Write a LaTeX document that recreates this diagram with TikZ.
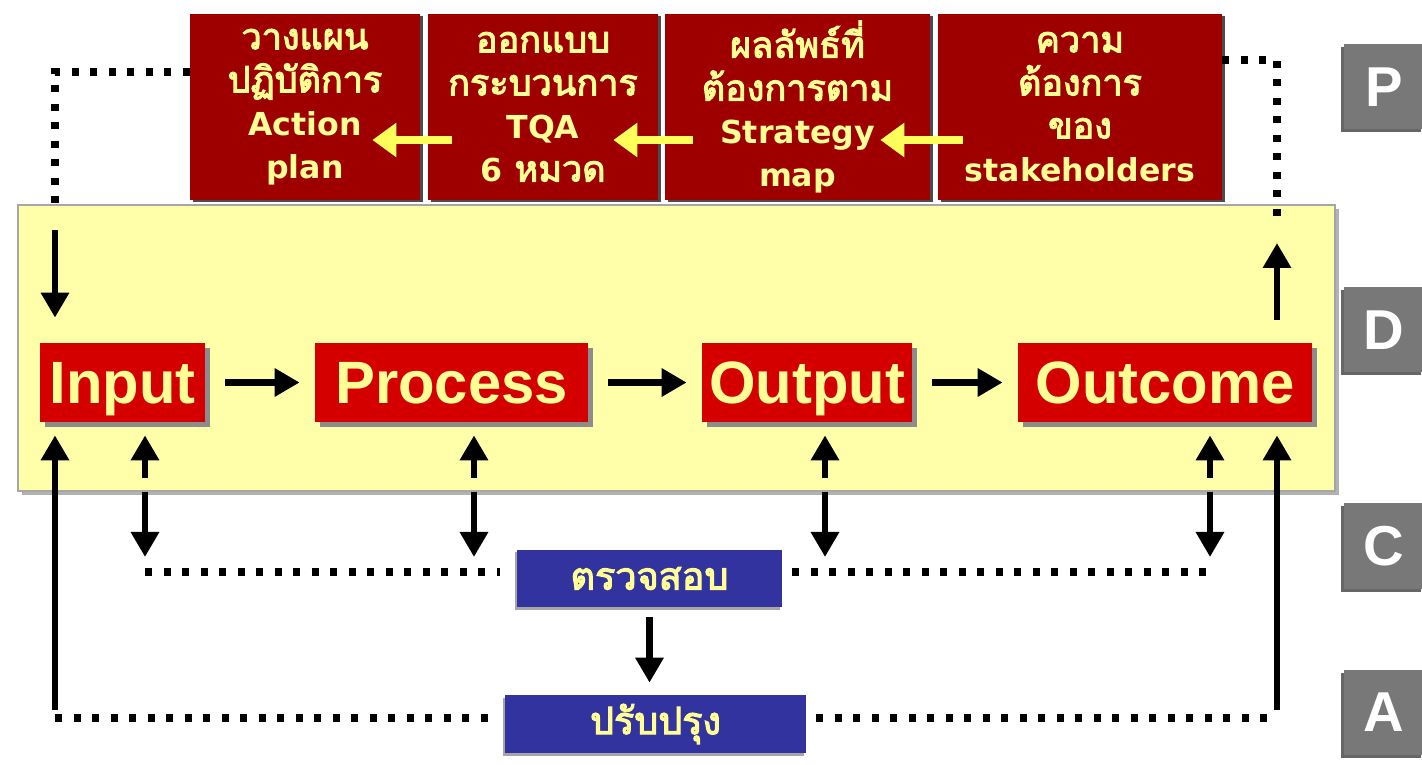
\documentclass[tikz,border=0pt]{standalone}
\usepackage{fontspec}
\setmainfont{Liberation Sans}
\newfontfamily\thaifont[Script=Thai, AutoFakeBold=3]{Loma}
\newfontfamily\boxlatin{DejaVu Sans}
\newcommand\lat[1]{{\boxlatin\bfseries\fontsize{18}{24.5}\selectfont #1}}
\usetikzlibrary{arrows.meta, shadows, positioning, calc}

\definecolor{planred}{RGB}{158,0,0}
\definecolor{stepred}{RGB}{212,0,0}
\definecolor{bandyellow}{RGB}{255,255,170}
\definecolor{textyellow}{RGB}{255,255,150}
\definecolor{arrowyellow}{RGB}{255,255,90}
\definecolor{checkblue}{RGB}{51,51,160}
\definecolor{tilegray}{RGB}{120,120,120}

\begin{document}
\begin{tikzpicture}[x=0.2mm, y=-0.2mm,
    planbox/.style={fill=planred, text=textyellow, align=center,
      font=\thaifont\bfseries\fontsize{20.5}{24.5}\selectfont,
      minimum height=37.2mm, inner sep=0pt,
      drop shadow={shadow xshift=0.5mm, shadow yshift=-0.5mm, fill=black!70, opacity=1}},
    stepbox/.style={fill=stepred, text=textyellow,
      font=\bfseries\fontsize{34}{36}\selectfont,
      text height=24pt, text depth=0pt,
      minimum height=15.8mm, inner sep=0pt,
      drop shadow={shadow xshift=1mm, shadow yshift=-1mm, fill=black!45, opacity=1}},
    checkbox/.style={fill=checkblue, text=textyellow,
      font=\thaifont\bfseries\fontsize{21.5}{24}\selectfont, inner sep=0pt,
      drop shadow={shadow xshift=-0.5mm, shadow yshift=-0.5mm, fill=black!35, opacity=1}},
    pdcatile/.style={fill=tilegray, text=white,
      font=\bfseries\fontsize{32}{32}\selectfont,
      minimum width=16mm, minimum height=17mm, inner sep=0pt,
      drop shadow={shadow xshift=-0.6mm, shadow yshift=-0.6mm, fill=black!60, opacity=1}},
    dotline/.style={line width=1.5mm, dash pattern=on 1.4mm off 2.3mm},
    flow/.style={line width=1.3mm, -{Triangle[length=5mm, width=5.4mm]}},
    feed/.style={line width=1.7mm, arrowyellow, -{Triangle[length=4.8mm, width=6.6mm]}},
  ]
  \useasboundingbox (0,0) rectangle (1422,765);

  % yellow "Do" band
  \node[fill=bandyellow, draw=black!35, line width=0.3mm,
    minimum width=263.4mm, minimum height=57.2mm, inner sep=0pt,
    drop shadow={shadow xshift=0.8mm, shadow yshift=-0.8mm, fill=black!30, opacity=1}]
    (band) at (676.5,348) {};

  % plan boxes
  \node[planbox, minimum width=46mm] (plan) at (305,107) {วางแผน\\ปฏิบัติการ\\\lat{Action}\\\lat{plan}};
  \node[planbox, minimum width=46mm] (design) at (543,107) {ออกแบบ\\กระบวนการ\\\lat{TQA}\\\lat{6} หมวด};
  \node[planbox, minimum width=53mm] (goal) at (797.5,107) {ผลลัพธ์ที่\\ต้องการตาม\\\lat{Strategy}\\\lat{map}};
  \node[planbox, minimum width=56.8mm] (need) at (1080,107) {ความ\\ต้องการ\\ของ\\\lat{stakeholders}};

  \draw[feed] ($(need.west)+(25,33)$) -- ($(goal.east)+(-50,33)$);
  \draw[feed] ($(goal.west)+(28,33)$) -- ($(design.east)+(-45,33)$);
  \draw[feed] ($(design.west)+(24,33)$) -- ($(plan.east)+(-48,33)$);

  % main chain
  \node[stepbox, minimum width=33mm] (input) at (122.5,382.5) {Input};
  \node[stepbox, minimum width=54.6mm] (process) at (451.5,382.5) {Process};
  \node[stepbox, minimum width=42mm] (output) at (807,382.5) {Output};
  \node[stepbox, minimum width=58.8mm] (outcome) at (1165,382.5) {Outcome};

  \draw[flow, shorten <=4mm, shorten >=3mm] (input) -- (process);
  \draw[flow, shorten <=4mm, shorten >=3mm] (process) -- (output);
  \draw[flow, shorten <=4mm, shorten >=3mm] (output) -- (outcome);

  % check and act
  \node[checkbox, minimum width=53mm, minimum height=11.4mm] (check) at (649.5,578.5) {ตรวจสอบ};
  \node[checkbox, minimum width=60.2mm, minimum height=11.6mm] (improve) at (655.5,724) {ปรับปรุง};
  \draw[flow, shorten <=2mm, shorten >=2.4mm] (check.south) -- (check.south |- improve.north);

  % PDCA tiles
  \node[pdcatile] (tileP) at (1384,87) {P};
  \node[pdcatile] (tileD) at (1384,330) {D};
  \node[pdcatile] (tileC) at (1384,546) {C};
  \node[pdcatile] (tileA) at (1384,712) {A};

  % plan feedback loops
  \coordinate (tl) at (55,72);
  \coordinate (tr) at (1277,60);
  \draw[dotline] (plan.west |- tl) -- (tl) -- ++(0,141);
  \draw[flow, shorten >=5mm] ($(tl)+(0,158)$) -- (tl |- input.north);
  \draw[dotline] (need.east |- tr) -- (tr) -- ++(0,167);
  \draw[flow, shorten <=4.6mm] (tr |- outcome.north) -- ($(tr)+(0,183)$);

  % check line
  \coordinate (cl) at (145,572);
  \coordinate (cr) at (1217,572);
  \draw[dotline, shorten >=3.4mm] (cl) -- (cl -| check.west);
  \draw[dotline, shorten <=2mm] (check.east |- cr) -- (cr);
  \foreach \x/\stage in {145/input, 474/process, 825/output, 1210/outcome} {
    \coordinate (up\stage) at (\x,478);
    \coordinate (dn\stage) at (\x,492);
    \draw[flow, shorten >=2.6mm] (up\stage) -- (up\stage |- \stage.south);
    \draw[flow] (dn\stage) -- ++(0,65);
  }

  % act line
  \coordinate (bl) at (55,718);
  \coordinate (br) at (1277,718);
  \draw[dotline, shorten >=2mm] (bl) -- (bl -| improve.west);
  \draw[dotline, shorten <=2mm] (improve.east |- br) -- (br);
  \draw[flow, shorten <=1.6mm, shorten >=2.6mm] (bl) -- (bl |- input.south);
  \draw[flow, shorten <=1.6mm, shorten >=2.6mm] (br) -- (br |- outcome.south);
\end{tikzpicture}
\end{document}
